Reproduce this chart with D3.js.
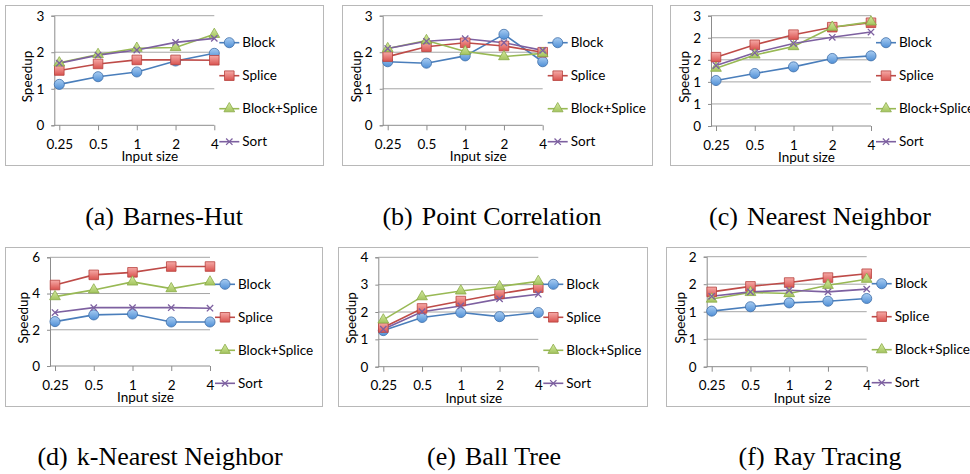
<!DOCTYPE html>
<html>
<head>
<meta charset="utf-8">
<script src="https://cdn.jsdelivr.net/npm/d3@7"></script>
<style>
  body { margin: 0; background: #fff; }
  svg { display: block; }
  .cap { font-family: "Liberation Serif", "DejaVu Serif", serif; font-size: 26px; }
  .chart-text { font-family: Lato, "Open Sans", sans-serif; font-size: 13.5px; fill: #000; }
</style>
</head>
<body>
<svg id="fig" width="970" height="474"></svg>
<script>
const inputSizes = ["0.25", "0.5", "1", "2", "4"]
const seriesNames = ["Block", "Splice", "Block+Splice", "Sort"]

// speedup values, one row per series (Block, Splice, Block+Splice, Sort)
const barnesHut = [
  [1.12, 1.33, 1.46, 1.76, 1.97],
  [1.50, 1.68, 1.79, 1.79, 1.78],
  [1.71, 1.94, 2.11, 2.13, 2.49],
  [1.70, 1.92, 2.06, 2.27, 2.38]
]
const pointCorrelation = [
  [1.74, 1.70, 1.90, 2.49, 1.74],
  [1.88, 2.15, 2.26, 2.17, 2.00],
  [2.10, 2.32, 2.02, 1.88, 1.97],
  [2.10, 2.30, 2.37, 2.26, 2.05]
]
const nearestNeighbor = [
  [1.03, 1.19, 1.34, 1.53, 1.59],
  [1.56, 1.84, 2.07, 2.24, 2.34],
  [1.31, 1.61, 1.80, 2.24, 2.36],
  [1.37, 1.66, 1.87, 2.01, 2.13]
]
const kNearestNeighbor = [
  [2.45, 2.82, 2.87, 2.43, 2.43],
  [4.47, 5.03, 5.17, 5.49, 5.49],
  [3.83, 4.20, 4.64, 4.27, 4.64],
  [2.95, 3.22, 3.22, 3.22, 3.19]
]
const ballTree = [
  [1.32, 1.80, 1.98, 1.83, 1.98],
  [1.43, 2.13, 2.40, 2.67, 2.89],
  [1.71, 2.56, 2.77, 2.93, 3.12],
  [1.37, 2.01, 2.22, 2.48, 2.65]
]
const rayTracing = [
  [1.01, 1.09, 1.16, 1.19, 1.24],
  [1.36, 1.46, 1.53, 1.62, 1.69],
  [1.23, 1.35, 1.33, 1.48, 1.59],
  [1.28, 1.36, 1.39, 1.36, 1.41]
]

const panelLetters = ["(a)", "(b)", "(c)", "(d)", "(e)", "(f)"]
const benchNames = ["Barnes-Hut", "Point Correlation", "Nearest Neighbor",
                    "k-Nearest Neighbor", "Ball Tree", "Ray Tracing"]
const yMax = [3, 3, 2.5, 6, 4, 2]
const yStep = [1, 1, 0.5, 2, 1, 0.5]
const panelData = [barnesHut, pointCorrelation, nearestNeighbor, kNearestNeighbor, ballTree, rayTracing]

// frame box, y-axis x, first category x, plot top/bottom, caption centre/baseline
const layout = [
  { box: [5, 5, 318, 160],   axisX: 54.3,  x0: 59.3,  top: 15.7,  bottom: 125.3, capX: 164, capY: 225 },
  { box: [342, 5, 310, 160], axisX: 382.7, x0: 387.7, top: 15.7,  bottom: 125.3, capX: 492, capY: 225 },
  { box: [670, 5, 320, 160], axisX: 711,   x0: 716,   top: 15.7,  bottom: 126,   capX: 820, capY: 225 },
  { box: [5, 247, 317, 159], axisX: 50,    x0: 55,    top: 257.3, bottom: 366,   capX: 160, capY: 465 },
  { box: [338, 247, 309, 159], axisX: 378.3, x0: 383.3, top: 257.3, bottom: 366.7, capX: 494, capY: 465 },
  { box: [666, 247, 320, 159], axisX: 706.7, x0: 711.7, top: 256.7, bottom: 366.7, capX: 820, capY: 465 }
]

const plotW = 155

const lineColors = ["#4a7ebb", "#be4b48", "#98b954", "#7d60a0"]
const strokeColors = ["#3f6fa8", "#b8413d", "#8aab48", "#7d60a0"]

const svg = d3.select("#fig")

// marker gradients (Excel-2007 style shading)
const defs = svg.append("defs")
const grads = [
  ["gBlue", "#a9cdf2", "#4f8fd6"],
  ["gRed", "#f6aaa7", "#d9534f"],
  ["gGreen", "#d6eaa2", "#a3c45e"]
]
grads.forEach(([id, c1, c2]) => {
  const lg = defs.append("linearGradient").attr("id", id)
    .attr("x1", 0).attr("y1", 0).attr("x2", 0).attr("y2", 1)
  lg.append("stop").attr("offset", "0%").attr("stop-color", c1)
  lg.append("stop").attr("offset", "100%").attr("stop-color", c2)
})

const symbols = [
  d3.symbol().type(d3.symbolCircle).size(80),
  d3.symbol().type(d3.symbolSquare).size(92),
  d3.symbol().type(d3.symbolTriangle).size(50),
  d3.symbol().type(d3.symbolX).size(28)
]
const fills = ["url(#gBlue)", "url(#gRed)", "url(#gGreen)", "none"]

function marker(g, i, x, y) {
  g.append("path")
    .attr("d", symbols[i]())
    .attr("transform", `translate(${x},${y})`)
    .attr("fill", fills[i])
    .attr("stroke", strokeColors[i])
    .attr("stroke-width", i === 3 ? 1.3 : 0.8)
}

panelData.forEach((rows, p) => {
  const L = layout[p]
  const g = svg.append("g")

  // frame
  g.append("rect")
    .attr("x", L.box[0] + 0.5).attr("y", L.box[1] + 0.5)
    .attr("width", L.box[2]).attr("height", L.box[3])
    .attr("fill", "none").attr("stroke", "#b8b8b8")

  const x = d3.scalePoint().domain(inputSizes).range([L.x0, L.x0 + plotW])
  const y = d3.scaleLinear().domain([0, yMax[p]]).range([L.bottom, L.top])
  const ticks = d3.range(0, yMax[p] + 1e-9, yStep[p])
  const xEnd = x(inputSizes[inputSizes.length - 1])

  // gridlines
  g.append("g").selectAll("line").data(ticks.slice(1)).join("line")
    .attr("x1", L.axisX).attr("x2", xEnd)
    .attr("y1", d => y(d)).attr("y2", d => y(d))
    .attr("stroke", "#a6a6a6").attr("stroke-width", 1)

  // y axis
  const yAxis = g.append("g")
    .attr("transform", `translate(${L.axisX},0)`)
    .call(d3.axisLeft(y).tickValues(ticks).tickSize(3).tickPadding(7)
      .tickFormat(d => String(Math.round(d))))
  yAxis.select(".domain").attr("stroke", "#8c8c8c")
  yAxis.selectAll(".tick line").attr("stroke", "#8c8c8c")
  yAxis.selectAll("text").attr("class", "chart-text").attr("font-size", null).attr("font-family", null)

  // x axis
  g.append("line")
    .attr("x1", L.axisX).attr("x2", xEnd)
    .attr("y1", L.bottom).attr("y2", L.bottom)
    .attr("stroke", "#8c8c8c")
  const xAxis = g.append("g")
    .attr("transform", `translate(0,${L.bottom})`)
    .call(d3.axisBottom(x).tickSize(5).tickPadding(9))
  xAxis.select(".domain").remove()
  xAxis.selectAll(".tick line").attr("stroke", "#8c8c8c")
  xAxis.selectAll("text").attr("class", "chart-text")

  // axis titles
  g.append("text")
    .attr("class", "chart-text")
    .attr("x", L.x0 + plotW / 2 + 13).attr("y", L.bottom + 36)
    .attr("text-anchor", "middle")
    .text("Input size")
  g.append("text")
    .attr("class", "chart-text")
    .attr("transform", `translate(${L.axisX - 22},${(L.top + L.bottom) / 2 + 6}) rotate(-90)`)
    .attr("text-anchor", "middle")
    .text("Speedup")

  // series
  rows.forEach((vals, s) => {
    g.append("path")
      .datum(vals)
      .attr("fill", "none")
      .attr("stroke", lineColors[s])
      .attr("stroke-width", 1.6)
      .attr("d", d3.line().x((d, i) => x(inputSizes[i])).y(d => y(d)))
  })
  rows.forEach((vals, s) => {
    vals.forEach((v, i) => marker(g, s, x(inputSizes[i]), y(v)))
  })

  // legend
  const lx = xEnd + 15
  seriesNames.forEach((name, s) => {
    const ly = L.top + 27 + s * 33
    g.append("line")
      .attr("x1", lx - 10).attr("x2", lx + 10)
      .attr("y1", ly).attr("y2", ly)
      .attr("stroke", lineColors[s]).attr("stroke-width", 1.6)
    marker(g, s, lx, ly)
    g.append("text")
      .attr("class", "chart-text")
      .attr("x", lx + 13).attr("y", ly)
      .attr("dy", "0.35em")
      .text(name)
  })

  // caption
  const cap = svg.append("text")
    .attr("class", "cap")
    .attr("x", L.capX).attr("y", L.capY)
    .attr("text-anchor", "middle")
  cap.append("tspan").text(panelLetters[p])
  cap.append("tspan").attr("dx", 9).text(benchNames[p])
})
</script>
</body>
</html>
